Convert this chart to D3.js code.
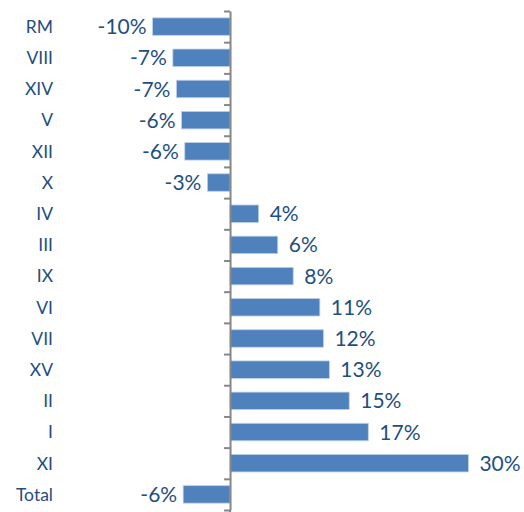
<!DOCTYPE html>
<html>
<head>
<meta charset="utf-8">
<script src="https://cdn.jsdelivr.net/npm/d3@7"></script>
<style>
  body { margin: 0; background: #fff; }
  text { font-family: Lato, "Open Sans", sans-serif; }
</style>
</head>
<body>
<div id="chart"></div>
<script>
const width = 524;
const height = 512;

const categories = ["RM", "VIII", "XIV", "V", "XII", "X", "IV", "III", "IX", "VI", "VII", "XV", "II", "I", "XI", "Total"];
const values = [-9.75, -7.2, -6.75, -6.1, -5.7, -2.85, 3.6, 6.0, 7.95, 11.3, 11.75, 12.5, 15.0, 17.4, 30.0, -5.9];
const valueLabels = ["-10%", "-7%", "-7%", "-6%", "-6%", "-3%", "4%", "6%", "8%", "11%", "12%", "13%", "15%", "17%", "30%", "-6%"];

const data = categories.map((c, i) => ({ cat: c, value: values[i], label: valueLabels[i] }));

const svg = d3.select("#chart").append("svg")
  .attr("width", width)
  .attr("height", height);

const x = d3.scaleLinear()
  .domain([-10, 30])
  .range([150.6, 468.4]);

const y = d3.scaleBand()
  .domain(categories)
  .range([11, 510])
  .paddingInner(0.44)
  .paddingOuter(0.22);

// bars
svg.append("g")
  .selectAll("rect")
  .data(data)
  .join("rect")
  .attr("x", d => x(Math.min(0, d.value)))
  .attr("y", d => y(d.cat))
  .attr("width", d => Math.abs(x(d.value) - x(0)))
  .attr("height", y.bandwidth())
  .attr("fill", "#4f81bd")
  .attr("stroke", "#bcd0e8")
  .attr("stroke-width", 0.8);

// axis at zero with ticks on band boundaries
const boundary = d3.scaleLinear().domain([0, categories.length]).range([11, 510]);
const axis = svg.append("g")
  .attr("transform", `translate(${x(0)},0)`)
  .call(d3.axisLeft(boundary)
    .tickValues(d3.range(categories.length + 1))
    .tickSize(6)
    .tickSizeOuter(0)
    .tickFormat(""));
axis.select(".domain").attr("stroke", "#868686").attr("stroke-width", 2);
axis.selectAll(".tick line").attr("stroke", "#868686").attr("stroke-width", 2);
axis.append("line")
  .attr("x1", 0).attr("x2", 0)
  .attr("y1", 510).attr("y2", height)
  .attr("stroke", "#868686").attr("stroke-width", 2);

// category labels
svg.append("g")
  .selectAll("text")
  .data(data)
  .join("text")
  .attr("x", 53)
  .attr("y", d => y(d.cat) + y.bandwidth() / 2)
  .attr("dy", "0.36em")
  .attr("text-anchor", "end")
  .attr("font-size", 17.5)
  .attr("fill", "#1f4f7f")
  .text(d => d.cat);

// value labels
svg.append("g")
  .selectAll("text")
  .data(data)
  .join("text")
  .attr("x", d => d.value < 0 ? x(d.value) - 6 : x(d.value) + 11)
  .attr("y", d => y(d.cat) + y.bandwidth() / 2)
  .attr("dy", "0.36em")
  .attr("text-anchor", d => d.value < 0 ? "end" : "start")
  .attr("font-size", 21)
  .attr("fill", "#1f4f7f")
  .text(d => d.label);
</script>
</body>
</html>
